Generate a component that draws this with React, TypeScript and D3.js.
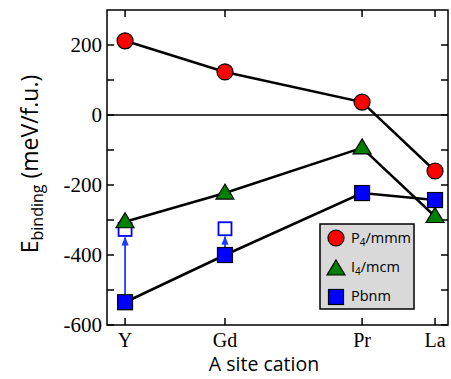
import React, { useEffect, useRef } from "react";
import * as d3 from "d3";

// A-site cations and their position along the x axis
const cations = ["Y", "Gd", "Pr", "La"];
const cationPos = [0.053, 0.346, 0.748, 0.962];

// binding energies (meV/f.u.)
const p4mmm = [212, 123, 37, -160];
const i4mcm = [-305, -223, -94, -290];
const pbnm = [-535, -400, -223, -243];
// relaxed Pbnm values (open squares) for Y and Gd
const pbnmOpen = [-327, -325];

const yMajor = [200, 0, -200, -400, -600];
const yMinor = [100, -100, -300, -500];

export default function App() {
  const ref = useRef<SVGSVGElement>(null);

  useEffect(() => {
    const svg = d3.select(ref.current);
    svg.selectAll("*").remove();

    const left = 107, right = 448, top = 10, bottom = 325;
    const x = d3.scaleLinear().domain([0, 1]).range([left, right]);
    const y = d3.scaleLinear().domain([-600, 300]).range([bottom, top]);
    const serif = "'Liberation Serif', 'Times New Roman', serif";
    const sans = "'Open Sans', 'Noto Sans', sans-serif";

    // zero line
    svg.append("line")
      .attr("x1", left).attr("x2", right)
      .attr("y1", y(0)).attr("y2", y(0))
      .attr("stroke", "#000").attr("stroke-width", 1.5);

    // ticks
    const tk = svg.append("g").attr("stroke", "#000").attr("stroke-width", 1.5);
    yMajor.concat(yMinor).forEach((v) => {
      const len = 7;
      tk.append("line").attr("x1", left).attr("x2", left + len).attr("y1", y(v)).attr("y2", y(v));
      tk.append("line").attr("x1", right).attr("x2", right - len).attr("y1", y(v)).attr("y2", y(v));
    });
    cationPos.forEach((p) => {
      tk.append("line").attr("x1", x(p)).attr("x2", x(p)).attr("y1", bottom).attr("y2", bottom - 7);
      tk.append("line").attr("x1", x(p)).attr("x2", x(p)).attr("y1", top).attr("y2", top + 7);
    });

    // tick labels
    svg.append("g").selectAll("text").data(yMajor).enter().append("text")
      .attr("x", left - 5).attr("y", (d) => y(d)).attr("dy", "0.35em")
      .attr("text-anchor", "end").attr("font-family", serif).attr("font-size", 21)
      .text((d) => d);
    svg.append("g").selectAll("text").data(cations).enter().append("text")
      .attr("x", (d, i) => x(cationPos[i])).attr("y", bottom + 22)
      .attr("text-anchor", "middle").attr("font-family", serif).attr("font-size", 20)
      .text((d) => d);

    // axis titles
    svg.append("text")
      .attr("x", 264).attr("y", 371)
      .attr("text-anchor", "middle").attr("font-family", sans).attr("font-size", 19.5)
      .text("A site cation");
    const yt = svg.append("text")
      .attr("transform", "translate(38,164) rotate(-90)")
      .attr("text-anchor", "middle").attr("font-family", sans).attr("font-size", 23);
    yt.append("tspan").text("E");
    yt.append("tspan").attr("font-size", 16).attr("dy", 5).text("binding");
    yt.append("tspan").attr("dy", -5).text(" (meV/f.u.)");

    const line = d3.line<number>().x((d, i) => x(cationPos[i])).y((d) => y(d));
    [p4mmm, i4mcm, pbnm].forEach((s) => {
      svg.append("path").attr("d", line(s)!).attr("fill", "none")
        .attr("stroke", "#000").attr("stroke-width", 2.5);
    });

    // arrows from Pbnm to relaxed values
    svg.append("defs").append("marker")
      .attr("id", "ah").attr("viewBox", "0 0 10 10").attr("refX", 9).attr("refY", 5)
      .attr("markerWidth", 5).attr("markerHeight", 5).attr("orient", "auto")
      .append("path").attr("d", "M0,1 L10,5 L0,9 Z").attr("fill", "#1a3cff");
    pbnmOpen.forEach((v, i) => {
      svg.append("line")
        .attr("x1", x(cationPos[i])).attr("x2", x(cationPos[i]))
        .attr("y1", y(pbnm[i]) - 8).attr("y2", y(v) + 8)
        .attr("stroke", "#1a3cff").attr("stroke-width", 1.8)
        .attr("marker-end", "url(#ah)");
    });

    const circle = (g: any, cx: number, cy: number) =>
      g.append("circle").attr("cx", cx).attr("cy", cy).attr("r", 8)
        .attr("fill", "#ff0000").attr("stroke", "#000").attr("stroke-width", 1.2);
    const tri = (g: any, cx: number, cy: number) =>
      g.append("path")
        .attr("d", `M${cx},${cy - 9} L${cx + 9},${cy + 6} L${cx - 9},${cy + 6} Z`)
        .attr("fill", "#008000").attr("stroke", "#000").attr("stroke-width", 1.2);
    const sq = (g: any, cx: number, cy: number) =>
      g.append("rect").attr("x", cx - 7.5).attr("y", cy - 7.5).attr("width", 15).attr("height", 15)
        .attr("fill", "#0000ff").attr("stroke", "#000").attr("stroke-width", 1.2);

    pbnmOpen.forEach((v, i) => {
      svg.append("rect")
        .attr("x", x(cationPos[i]) - 6.5).attr("y", y(v) - 6.5).attr("width", 13).attr("height", 13)
        .attr("fill", "#fff").attr("stroke", "#0000ff").attr("stroke-width", 1.8);
    });
    const mk = svg.append("g");
    i4mcm.forEach((v, i) => tri(mk, x(cationPos[i]), y(v)));
    pbnm.forEach((v, i) => sq(mk, x(cationPos[i]), y(v)));
    p4mmm.forEach((v, i) => circle(mk, x(cationPos[i]), y(v)));

    // frame
    svg.append("rect")
      .attr("x", left).attr("y", top).attr("width", right - left).attr("height", bottom - top)
      .attr("fill", "none").attr("stroke", "#000").attr("stroke-width", 1.5);

    // legend
    const lg = svg.append("g").attr("transform", "translate(320,224)");
    lg.append("rect").attr("width", 94).attr("height", 85)
      .attr("fill", "#d9d9d9").attr("stroke", "#000").attr("stroke-width", 1.5);
    circle(lg, 16, 14);
    tri(lg, 16, 45);
    sq(lg, 16, 73);
    const names: [string, string, string][] = [["P", "4", "/mmm"], ["I", "4", "/mcm"], ["Pbnm", "", ""]];
    names.forEach((n, i) => {
      const t = lg.append("text").attr("x", 31).attr("y", 19 + i * 29)
        .attr("font-family", sans).attr("font-size", 14.5);
      t.append("tspan").text(n[0]);
      if (n[1]) {
        t.append("tspan").attr("font-size", 10).attr("dy", 3).text(n[1]);
        t.append("tspan").attr("dy", -3).text(n[2]);
      }
    });
  }, []);

  return (
    <svg ref={ref} width={451} height={379}
      style={{ position: "absolute", left: 0, top: 0, background: "#fff" }} />
  );
}
